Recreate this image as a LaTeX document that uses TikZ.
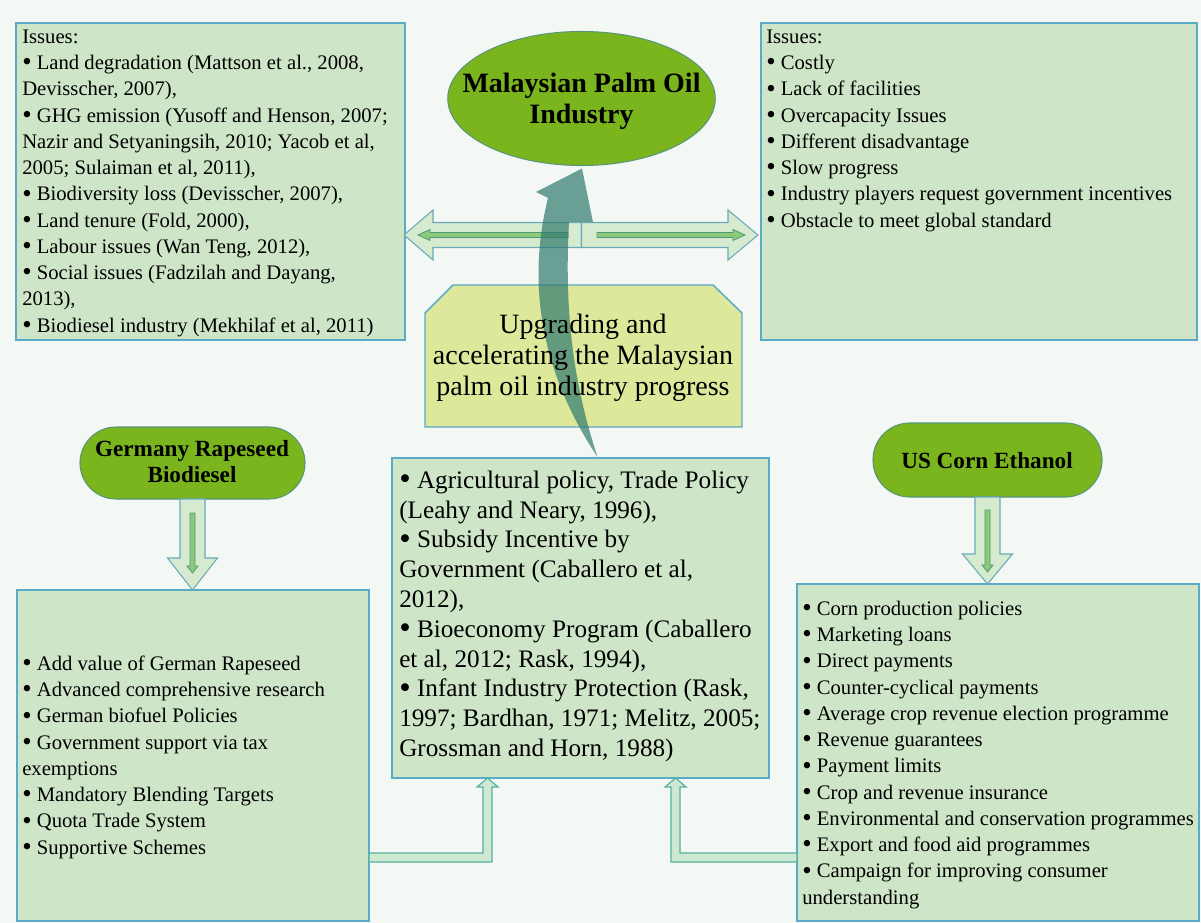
\documentclass[tikz,border=0pt]{standalone}
\usepackage{graphicx}
\usepackage{fontspec}
\setmainfont{Liberation Serif}
\usetikzlibrary{calc,fit,shapes.geometric}
\definecolor{bgcol}{RGB}{244,248,244}
\definecolor{boxfill}{RGB}{207,229,200}
\definecolor{boxline}{RGB}{90,170,200}
\definecolor{pillfill}{RGB}{122,181,29}
\definecolor{pillline}{RGB}{88,150,120}
\definecolor{arrfill}{RGB}{214,234,207}
\definecolor{arrline}{RGB}{106,170,184}
\definecolor{thinfill}{RGB}{140,201,122}
\definecolor{thinline}{RGB}{78,154,116}
\definecolor{pentfill}{RGB}{221,232,155}
\definecolor{bentfill}{RGB}{207,232,210}
\definecolor{bentline}{RGB}{85,176,160}
\definecolor{curvecol}{RGB}{48,122,110}
\newcommand\bu{\raisebox{-0.06em}{\scalebox{1.3}{•}}}
\begin{document}
\begin{tikzpicture}[x=0.75pt,y=-0.75pt]
\tikzset{
  box/.style={draw=boxline, fill=boxfill, line width=1.1pt, inner sep=0pt, outer sep=0pt},
  pill/.style={draw=pillline, fill=pillfill, line width=0.8pt, inner sep=0pt, outer sep=0pt},
  pentstyle/.style={draw=boxline, fill=pentfill, line width=1.1pt, line join=miter},
  blockarr/.style={draw=arrline, fill=arrfill, line width=0.8pt, line join=miter},
  thinarr/.style={draw=thinline, fill=thinfill, line width=0.6pt, line join=miter},
  bentarr/.style={draw=bentline, fill=bentfill, line width=0.9pt, line join=miter},
  curvestyle/.style={fill=curvecol, fill opacity=0.7},
  bodytext/.style={font=\fontsize{15.5}{19.7}\selectfont, align=left, inner sep=0pt, anchor=north west},
  centertext/.style={font=\fontsize{18.9}{22.35}\selectfont, align=left, inner sep=0pt, anchor=north west},
  titletext/.style={font=\fontsize{21}{23.25}\selectfont\bfseries, align=center, inner sep=0pt, anchor=north},
  pentext/.style={font=\fontsize{21}{23.25}\selectfont, align=center, inner sep=0pt, anchor=north},
  pilltext/.style={font=\fontsize{17.4}{19.5}\selectfont\bfseries, align=center, inner sep=0pt}
}
\fill[bgcol] (0,0) rectangle (1201,923);
\useasboundingbox (0,0) rectangle (1201,923);

% boxes
\node[box, fit={(16,23) (405,340)}] (tl) {};
\node[box, fit={(761,23) (1197,340)}] (tr) {};
\node[box, fit={(17,590) (369,921)}] (bl) {};
\node[box, fit={(392,458) (769,778)}] (bc) {};
\node[box, fit={(797,584) (1199,921)}] (br) {};

% ellipse and pills
\node[pill, ellipse, minimum width=200.6pt, minimum height=100.5pt] (ell) at (581.5,98.5) {};
\node[pill, rounded corners=27pt, fit={(80,427) (305,499)}] (ger) {};
\node[pill, rounded corners=27.5pt, fit={(873,423) (1102,497)}] (us) {};

% double arrow
\coordinate (dL) at ($(tl.north east)+(-1,212)$);
\coordinate (dR) at ($(tr.north west)+(-3,212)$);
\coordinate (dM) at (ell.south |- dL);
\draw[blockarr] ($(dM)+(0,-12.5)$) -- ($(dL)+(29,-12.5)$) -- ($(dL)+(29,-25)$) -- (dL)
  -- ($(dL)+(29,25)$) -- ($(dL)+(29,12.5)$) -- ($(dM)+(0,12.5)$) -- cycle;
\draw[blockarr] ($(dM)+(0,-12.5)$) -- ($(dR)+(-30,-12.5)$) -- ($(dR)+(-30,-25)$) -- (dR)
  -- ($(dR)+(-30,25)$) -- ($(dR)+(-30,12.5)$) -- ($(dM)+(0,12.5)$) -- cycle;
\coordinate (iLS) at ($(dM)+(-13.5,0)$);
\coordinate (iLT) at ($(dL)+(14,0)$);
\coordinate (iRS) at ($(dM)+(15.5,0)$);
\coordinate (iRT) at ($(dR)+(-13,0)$);
\draw[thinarr] ($(iLS)+(0,-2.5)$) -- ($(iLT)+(12,-2.5)$) -- ($(iLT)+(12,-5.5)$) -- (iLT)
  -- ($(iLT)+(12,5.5)$) -- ($(iLT)+(12,2.5)$) -- ($(iLS)+(0,2.5)$) -- cycle;
\draw[thinarr] ($(iRS)+(0,-2.5)$) -- ($(iRT)+(-12,-2.5)$) -- ($(iRT)+(-12,-5.5)$) -- (iRT)
  -- ($(iRT)+(-12,5.5)$) -- ($(iRT)+(-12,2.5)$) -- ($(iRS)+(0,2.5)$) -- cycle;

% pentagon-like box
\draw[pentstyle] (425,313) -- (453,285) -- (713,285) -- (742,313) -- (742,427) -- (425,427) -- cycle;
\node[inner sep=0pt, fit={(425,285) (742,427)}] (pent) {};

% down arrows
\coordinate (gA) at (ger.south);
\coordinate (gB) at (ger.south |- bl.north);
\draw[blockarr] ($(gA)+(-12.5,0)$) -- ($(gB)+(-12.5,-32)$) -- ($(gB)+(-25,-32)$) -- (gB)
  -- ($(gB)+(25,-32)$) -- ($(gB)+(12.5,-32)$) -- ($(gA)+(12.5,0)$) -- cycle;
\coordinate (gS) at ($(gA)+(0,14)$);
\coordinate (gT) at ($(gB)+(0,-17)$);
\draw[thinarr] ($(gS)+(-2.5,0)$) -- ($(gT)+(-2.5,-7)$) -- ($(gT)+(-5.5,-7)$) -- (gT)
  -- ($(gT)+(5.5,-7)$) -- ($(gT)+(2.5,-7)$) -- ($(gS)+(2.5,0)$) -- cycle;

\coordinate (uA) at (us.south);
\coordinate (uB) at (us.south |- br.north);
\draw[blockarr] ($(uA)+(-12.5,0)$) -- ($(uB)+(-12.5,-30)$) -- ($(uB)+(-25,-30)$) -- (uB)
  -- ($(uB)+(25,-30)$) -- ($(uB)+(12.5,-30)$) -- ($(uA)+(12.5,0)$) -- cycle;
\coordinate (uS) at ($(uA)+(0,13)$);
\coordinate (uT) at ($(uB)+(0,-12)$);
\draw[thinarr] ($(uS)+(-2.5,0)$) -- ($(uT)+(-2.5,-7)$) -- ($(uT)+(-5.5,-7)$) -- (uT)
  -- ($(uT)+(5.5,-7)$) -- ($(uT)+(2.5,-7)$) -- ($(uS)+(2.5,0)$) -- cycle;

% bent arrows
\coordinate (bE1) at ($(bl.south east)+(0,-63.5)$);
\coordinate (bT1) at ($(bc.south)+(-93,0)$);
\draw[bentarr] ($(bE1)+(0,-4.5)$) -- ($(bT1 |- bE1)+(-4.5,-4.5)$) -- ($(bT1)+(-4.5,9)$) -- ($(bT1)+(-10.5,9)$) -- (bT1)
  -- ($(bT1)+(10.5,9)$) -- ($(bT1)+(4.5,9)$) -- ($(bT1 |- bE1)+(4.5,4.5)$) -- ($(bE1)+(0,4.5)$) -- cycle;
\coordinate (bE2) at ($(br.south west)+(0,-63.5)$);
\coordinate (bT2) at ($(bc.south)+(95,0)$);
\draw[bentarr] ($(bE2)+(0,-4.5)$) -- ($(bT2 |- bE2)+(4.5,-4.5)$) -- ($(bT2)+(4.5,9)$) -- ($(bT2)+(10.5,9)$) -- (bT2)
  -- ($(bT2)+(-10.5,9)$) -- ($(bT2)+(-4.5,9)$) -- ($(bT2 |- bE2)+(-4.5,4.5)$) -- ($(bE2)+(0,4.5)$) -- cycle;

% curved arrow
\coordinate (cT) at ($(bc.north)+(17,-1)$);
\coordinate (cH) at ($(ell.south)+(0.5,3)$);
\fill[curvestyle] (cT) .. controls (579,400) and (563,330) .. (569,222) -- (593,222) -- (cH)
  -- (536,192) -- (548,198) .. controls (530,270) and (533,360) .. (cT) -- cycle;

% texts
\node[titletext] (ellt) at (581.5,70.3) {\strut Malaysian Palm Oil\\Industry};
\node[pentext] (pentt) at (583,311.3) {\strut Upgrading and\\accelerating the Malaysian\\palm oil industry progress};
\node[pilltext, anchor=north] (gert) at (192,437.8) {\strut Germany Rapeseed\\Biodiesel};
\node[pilltext, anchor=base] (ust) at (987,468) {US Corn Ethanol};

\node[bodytext] (tlt) at (22,24.6) {\strut Issues:\\
\bu{} Land degradation (Mattson et al., 2008,\\
Devisscher, 2007),\\
\bu{} GHG emission (Yusoff and Henson, 2007;\\
Nazir and Setyaningsih, 2010; Yacob et al,\\
2005; Sulaiman et al, 2011),\\
\bu{} Biodiversity loss (Devisscher, 2007),\\
\bu{} Land tenure (Fold, 2000),\\
\bu{} Labour issues (Wan Teng, 2012),\\
\bu{} Social issues (Fadzilah and Dayang,\\
2013),\\
\bu{} Biodiesel industry (Mekhilaf et al, 2011)};

\node[bodytext] (trt) at (766,24.6) {\strut Issues:\\
\bu{} Costly\\
\bu{} Lack of facilities\\
\bu{} Overcapacity Issues\\
\bu{} Different disadvantage\\
\bu{} Slow progress\\
\bu{} Industry players request government incentives\\
\bu{} Obstacle to meet global standard};

\node[bodytext] (blt) at (22,651.6) {\strut \bu{} Add value of German Rapeseed\\
\bu{} Advanced comprehensive research\\
\bu{} German biofuel Policies\\
\bu{} Government support via tax\\
exemptions\\
\bu{} Mandatory Blending Targets\\
\bu{} Quota Trade System\\
\bu{} Supportive Schemes};

\node[bodytext] (brt) at (802,596.6) {\strut \bu{} Corn production policies\\
\bu{} Marketing loans\\
\bu{} Direct payments\\
\bu{} Counter-cyclical payments\\
\bu{} Average crop revenue election programme\\
\bu{} Revenue guarantees\\
\bu{} Payment limits\\
\bu{} Crop and revenue insurance\\
\bu{} Environmental and conservation programmes\\
\bu{} Export and food aid programmes\\
\bu{} Campaign for improving consumer\\
understanding};

\node[centertext] (bct) at (399,467.1) {\strut \bu{} Agricultural policy, Trade Policy\\
(Leahy and Neary, 1996),\\
\bu{} Subsidy Incentive by\\
Government (Caballero et al,\\
2012),\\
\bu{} Bioeconomy Program (Caballero\\
et al, 2012; Rask, 1994),\\
\bu{} Infant Industry Protection (Rask,\\
1997; Bardhan, 1971; Melitz, 2005;\\
Grossman and Horn, 1988)};
\end{tikzpicture}
\end{document}
